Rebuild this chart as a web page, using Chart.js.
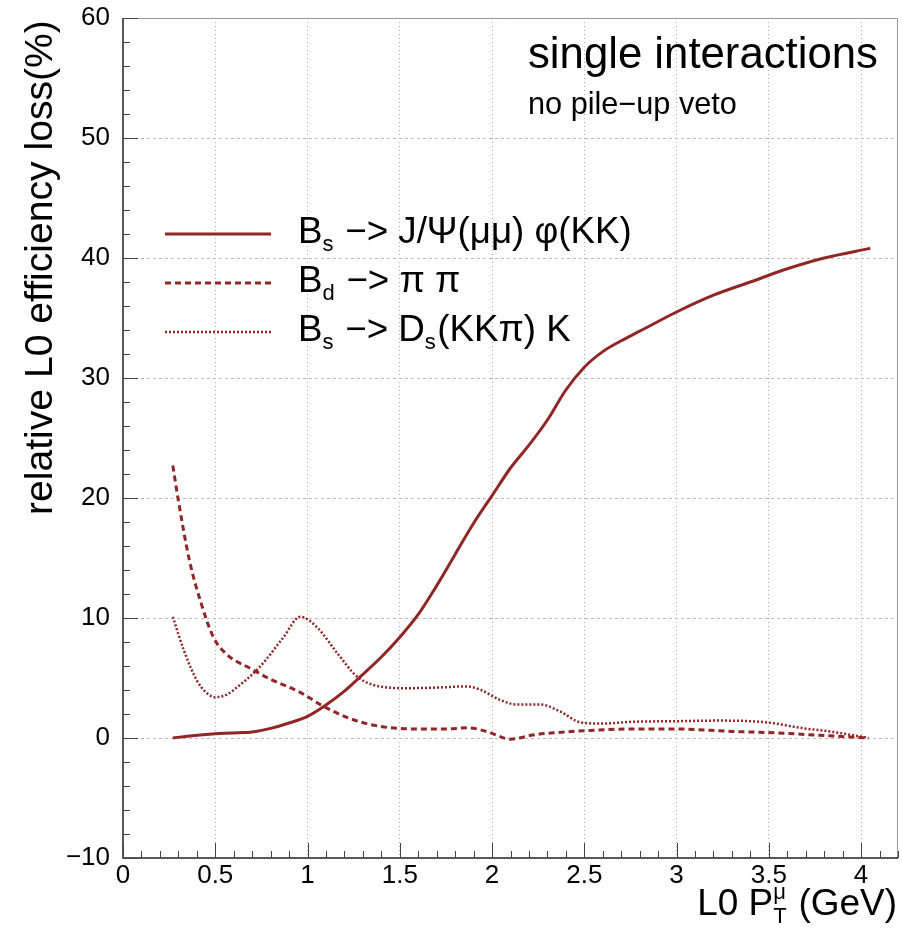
<!DOCTYPE html>
<html>
<head>
<meta charset="utf-8">
<script src="https://cdn.jsdelivr.net/npm/chart.js@4.4.1/dist/chart.umd.min.js"></script>
<style>
  html, body { margin: 0; padding: 0; background: #fff; }
  #plot { display: block; }
</style>
</head>
<body>
<canvas id="plot" width="902" height="933"></canvas>
<script>
// Bs -> J/psi(mumu) phi(KK)
const xJpsi = [0.27, 0.35, 0.45, 0.55, 0.65, 0.72, 0.8, 0.9, 1.0, 1.1, 1.2, 1.3, 1.4, 1.5, 1.6, 1.7, 1.8, 1.9, 2.0, 2.1, 2.2, 2.3, 2.4, 2.5, 2.6, 2.7, 2.8, 3.0, 3.2, 3.4, 3.6, 3.8, 4.05];
const yJpsi = [0.0, 0.15, 0.3, 0.4, 0.45, 0.55, 0.8, 1.25, 1.8, 2.75, 3.9, 5.3, 6.75, 8.4, 10.3, 12.7, 15.3, 17.9, 20.2, 22.5, 24.4, 26.5, 29.0, 30.9, 32.2, 33.1, 33.9, 35.5, 36.9, 38.0, 39.1, 40.0, 40.8];

// Bd -> pi pi
const xPiPi = [0.27, 0.3, 0.36, 0.42, 0.49, 0.56, 0.69, 0.8, 0.96, 1.08, 1.2, 1.32, 1.45, 1.6, 1.75, 1.87, 1.98, 2.1, 2.22, 2.35, 2.5, 2.75, 3.0, 3.3, 3.5, 3.75, 4.04];
const yPiPi = [22.7, 19.8, 14.8, 11.4, 8.4, 7.0, 5.8, 4.9, 3.8, 2.7, 1.8, 1.2, 0.85, 0.75, 0.75, 0.85, 0.5, -0.1, 0.25, 0.45, 0.6, 0.75, 0.75, 0.55, 0.45, 0.25, 0.0];

// Bs -> Ds(KKpi) K
const xDsK = [0.27, 0.33, 0.4, 0.45, 0.5, 0.56, 0.62, 0.74, 0.87, 0.96, 1.05, 1.16, 1.27, 1.41, 1.54, 1.7, 1.86, 1.94, 2.04, 2.13, 2.2, 2.26, 2.37, 2.48, 2.6, 2.76, 3.0, 3.22, 3.49, 3.67, 3.85, 4.04];
const yDsK = [10.1, 7.3, 4.8, 3.8, 3.4, 3.6, 4.25, 5.9, 8.4, 10.1, 9.25, 7.1, 5.1, 4.25, 4.15, 4.2, 4.3, 4.0, 3.2, 2.8, 2.8, 2.8, 2.2, 1.3, 1.2, 1.35, 1.4, 1.45, 1.3, 0.85, 0.5, 0.0];

const lineColor = '#902626';
const fontName = '"Liberation Sans", Arial, Helvetica, sans-serif';

function points(xs, ys) {
    return xs.map(function (x, i) { return { x: x, y: ys[i] }; });
}

// rich text: parts of [text, mode], mode 'n' | 'sub' | 'sup' | 'subsup' (text2 stacked)
function partWidth(ctx, p, size) {
    if (p[1] === 'n') {
        ctx.font = size + 'px ' + fontName;
        return ctx.measureText(p[0]).width;
    }
    ctx.font = Math.round(size * 0.6) + 'px ' + fontName;
    let w = ctx.measureText(p[0]).width;
    if (p[1] === 'subsup') w = Math.max(w, ctx.measureText(p[2]).width);
    return w + size * 0.04;
}

function richWidth(ctx, parts, size) {
    return parts.reduce(function (s, p) { return s + partWidth(ctx, p, size); }, 0);
}

function drawRich(ctx, parts, x, y, size) {
    ctx.textBaseline = 'alphabetic';
    ctx.textAlign = 'left';
    parts.forEach(function (p) {
        const w = partWidth(ctx, p, size);
        if (p[1] === 'n') {
            ctx.font = size + 'px ' + fontName;
            ctx.fillText(p[0], x, y);
        } else {
            ctx.font = Math.round(size * 0.6) + 'px ' + fontName;
            if (p[1] === 'sub') ctx.fillText(p[0], x, y + size * 0.22);
            if (p[1] === 'sup') ctx.fillText(p[0], x, y - size * 0.42);
            if (p[1] === 'subsup') {
                ctx.fillText(p[0], x, y + size * 0.22);
                ctx.fillText(p[2], x, y - size * 0.42);
            }
        }
        x += w;
    });
}

function fitSize(ctx, parts, width) {
    return 30 * width / richWidth(ctx, parts, 30);
}

const titleTop = [['single interactions', 'n']];
const titleSub = [['no pile\u2212up veto', 'n']];
const legendTexts = [
    [['B', 'n'], ['s', 'sub'], [' \u2212> J/\u03a8(\u03bc\u03bc) \u03c6(KK)', 'n']],
    [['B', 'n'], ['d', 'sub'], [' \u2212> \u03c0 \u03c0', 'n']],
    [['B', 'n'], ['s', 'sub'], [' \u2212> D', 'n'], ['s', 'sub'], ['(KK\u03c0) K', 'n']]
];
const xTitle = [['L0 P', 'n'], ['T', 'subsup', '\u03bc'], [' (GeV)', 'n']];
const yTitle = [['relative L0 efficiency loss(%)', 'n']];

function isMajor(v, step) {
    return Math.abs(v / step - Math.round(v / step)) < 1e-6;
}

const decorPlugin = {
    id: 'decor',
    beforeDraw(chart) {
        const ctx = chart.ctx;
        ctx.save();
        ctx.fillStyle = '#fff';
        ctx.fillRect(0, 0, chart.width, chart.height);
        ctx.restore();
    },
    afterDraw(chart) {
        const ctx = chart.ctx;
        const a = chart.chartArea;
        const sx = chart.scales.x, sy = chart.scales.y;
        ctx.save();

        // frame
        ctx.strokeStyle = '#999';
        ctx.lineWidth = 1;
        ctx.beginPath();
        ctx.moveTo(a.left, a.top + 0.5);
        ctx.lineTo(a.right - 0.5, a.top + 0.5);
        ctx.lineTo(a.right - 0.5, a.bottom);
        ctx.stroke();
        ctx.strokeStyle = '#222';
        ctx.lineWidth = 1.5;
        ctx.beginPath();
        ctx.moveTo(a.left, a.top);
        ctx.lineTo(a.left, a.bottom);
        ctx.lineTo(a.right, a.bottom);
        ctx.stroke();

        // inner tick marks
        ctx.lineWidth = 1;
        ctx.strokeStyle = '#444';
        ctx.beginPath();
        sx.ticks.forEach(function (t) {
            const px = Math.round(sx.getPixelForValue(t.value)) + 0.5;
            const len = isMajor(t.value, 0.5) ? 15 : 7;
            ctx.moveTo(px, a.bottom);
            ctx.lineTo(px, a.bottom - len);
        });
        sy.ticks.forEach(function (t) {
            const py = Math.round(sy.getPixelForValue(t.value)) + 0.5;
            const len = isMajor(t.value, 10) ? 15 : 7;
            ctx.moveTo(a.left, py);
            ctx.lineTo(a.left + len, py);
        });
        ctx.stroke();

        ctx.fillStyle = '#000';
        // titles in the corner
        drawRich(ctx, titleTop, 528, 68, fitSize(ctx, titleTop, 350));
        drawRich(ctx, titleSub, 528, 114, fitSize(ctx, titleSub, 209));

        // legend
        const legSize = fitSize(ctx, legendTexts[0], 334);
        const legY = [234, 283, 332];
        chart.data.datasets.forEach(function (ds, i) {
            ctx.strokeStyle = ds.borderColor;
            ctx.lineWidth = ds.borderWidth;
            ctx.setLineDash(ds.borderDash || []);
            ctx.beginPath();
            ctx.moveTo(165, legY[i]);
            ctx.lineTo(271, legY[i]);
            ctx.stroke();
            ctx.setLineDash([]);
            drawRich(ctx, legendTexts[i], 298, legY[i] + 9, legSize);
        });

        // x axis title, right aligned
        const xs = fitSize(ctx, xTitle, 200);
        drawRich(ctx, xTitle, 897 - richWidth(ctx, xTitle, xs), 915, xs);

        // y axis title, rotated, starting low
        const ys = fitSize(ctx, yTitle, 495);
        ctx.translate(52, 515);
        ctx.rotate(-Math.PI / 2);
        drawRich(ctx, yTitle, 0, 0, ys);

        ctx.restore();
    }
};

new Chart(document.getElementById('plot'), {
    type: 'line',
    data: {
        datasets: [
            {
                data: points(xJpsi, yJpsi),
                borderColor: lineColor,
                borderWidth: 3,
                borderDash: []
            },
            {
                data: points(xPiPi, yPiPi),
                borderColor: lineColor,
                borderWidth: 3,
                borderDash: [6, 4]
            },
            {
                data: points(xDsK, yDsK),
                borderColor: lineColor,
                borderWidth: 2.5,
                borderDash: [2, 2]
            }
        ]
    },
    options: {
        responsive: false,
        animation: false,
        devicePixelRatio: 1,
        layout: { padding: { top: 18, right: 4, left: 0, bottom: 0 } },
        elements: {
            point: { radius: 0 },
            line: { cubicInterpolationMode: 'monotone', fill: false }
        },
        plugins: {
            legend: { display: false },
            tooltip: { enabled: false }
        },
        scales: {
            x: {
                type: 'linear',
                min: 0,
                max: 4.2,
                afterFit: function (scale) {
                    scale.height = 75;
                    scale.paddingLeft = 0;
                    scale.paddingRight = 0;
                },
                afterBuildTicks: function (scale) {
                    const t = [];
                    for (let i = 0; i <= 42; i++) t.push({ value: i / 10 });
                    scale.ticks = t;
                },
                ticks: {
                    autoSkip: false,
                    maxRotation: 0,
                    padding: 2,
                    color: '#000',
                    font: { family: fontName, size: 26 },
                    callback: function (v) {
                        return isMajor(v, 0.5) ? String(Number(v.toFixed(1))) : '';
                    }
                },
                grid: {
                    drawTicks: false,
                    color: function (c) {
                        const v = c.tick ? c.tick.value : 0;
                        return (isMajor(v, 0.5) && v > 0 && v < 4.2) ? '#aaa' : 'transparent';
                    }
                },
                border: { display: false, dash: [1, 3] }
            },
            y: {
                type: 'linear',
                min: -10,
                max: 60,
                afterFit: function (scale) {
                    scale.width = 123;
                    scale.paddingTop = 0;
                    scale.paddingBottom = 0;
                },
                afterBuildTicks: function (scale) {
                    const t = [];
                    for (let v = -10; v <= 60; v += 2) t.push({ value: v });
                    scale.ticks = t;
                },
                ticks: {
                    autoSkip: false,
                    padding: 13,
                    color: '#000',
                    font: { family: fontName, size: 26 },
                    callback: function (v) {
                        return isMajor(v, 10) ? String(v).replace('-', '\u2212') : '';
                    }
                },
                grid: {
                    drawTicks: false,
                    color: function (c) {
                        const v = c.tick ? c.tick.value : 0;
                        return (isMajor(v, 10) && v > -10 && v < 60) ? '#bbb' : 'transparent';
                    }
                },
                border: { display: false, dash: [3, 3] }
            }
        }
    },
    plugins: [decorPlugin]
});
</script>
</body>
</html>
